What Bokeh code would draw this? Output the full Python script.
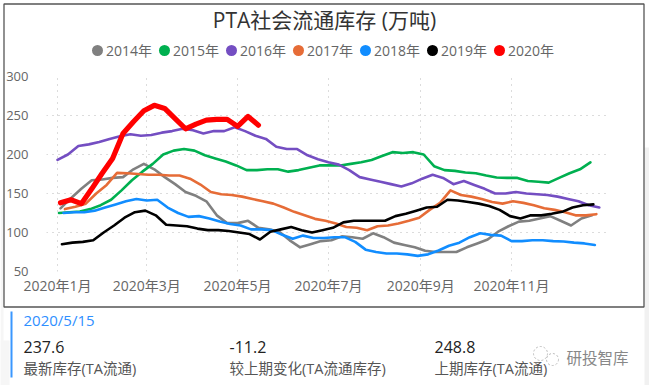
from bokeh.plotting import figure
from bokeh.models import Range1d, FixedTicker
from bokeh.core.properties import value
from bokeh.embed import file_html
from bokeh.resources import INLINE
import pandas as pd

title = "PTA社会流通库存 (万吨)"
date_text = "2020/5/15"
tick_days = [0, 60, 121, 182, 244, 305]
tick_labels = ["2020年1月", "2020年3月", "2020年5月", "2020年7月", "2020年9月", "2020年11月"]
y_ticks = [50, 100, 150, 200, 250, 300]

start_2014 = "2020-01-03"
start_2015 = "2020-01-02"
start_2016 = "2020-01-01"
start_2017 = "2020-01-06"
start_2018 = "2020-01-05"
start_2019 = "2020-01-04"
start_2020 = "2020-01-03"

v2014 = [131,144,156,167,168,170,171,181,188,181,171,162,152,147,140,122,112,112,115,106,104,101,90,81,85,89,90,95,94,92,99,94,87,84,81,
         76.5,75,75,75,81,86,91,101,108,114,115,118,121,115,109,118,122]
v2015 = [125,126,127,130,135,142,154,167,178,188,200,205,207,205,199,195,191,186,180,180,181,181,178,180,183,186,186,186,188,190,193,198,203,202,203,
         200,185,180,179,177,176,173,170.5,170,170,166,165,164,170,176,181,190]
v2016 = [193,200,211,213,216,220,223.5,226,224,225,228,230,233,231,227,230,230,235,230,224,220,210,207,207,199,194,190,187,180,171,168,165,162,159,163,
         169,174,170,162,166,161,156,150,150,152,150,149,148,146,143,140,135,132]
v2017 = [130,133,137,150,161,176.5,176,175,174,174,173,173,169,161.5,152,149,148,146,143,140,137,132,126.5,122,117.5,115,111.5,107,106,103,108,109,111.5,115,119,
         129,138,154,148,146,143,139,137,140,138,135,131,129,126,122,122,123.5]
v2018 = [125,126,126,128,132,136,140,143,141,142,132,125,120,121,118,114,111,109,104,104,103,97,92,96,93,93,94,94,88,78,75,73,73,72,70,
         72,77,83,87,94,99,97,96,89,89,90,90,89,88.5,87,86,84]
v2019 = [85,87,88,90,100,109,119,126,128,122,110,109,108,105,103,103,102,100,98,91,101,104,107,103,100,103,106,113,115,115,115,115,121,124,128,
         132,133,142,141,139,137,134,129,121,118,122,122,124,126.5,132,135,136]
v2020 = [138,142,137,156,176,195,227,242,256,263,259,246,233,239,244,245,245,236,248.8,237.6]

names = ["2014年", "2015年", "2016年", "2017年", "2018年", "2019年", "2020年"]
colors = ["#808080", "#00B050", "#744EC2", "#E66C37", "#118DFF", "#000000", "#FF0000"]
series = [v2014, v2015, v2016, v2017, v2018, v2019, v2020]
starts = [start_2014, start_2015, start_2016, start_2017, start_2018, start_2019, start_2020]
widths = [2.6, 2.6, 2.6, 2.6, 2.6, 2.6, 5.2]

kpi_x = [23, 229, 434]
kpi_val = ["237.6", "-11.2", "248.8"]
kpi_lab = ["最新库存(TA流通)", "较上期变化(TA流通库存)", "上期库存(TA流通)"]

FONT = "Open Sans, Noto Sans CJK SC, sans-serif"
L, R, T, B = 46, 607, 76, 271
ABS = {"position": "absolute", "left": "0px", "top": "0px"}

# Backdrop: card, title, legend and KPI strip, in page pixels
bg = figure(width=649, height=385, output_backend="svg", toolbar_location=None,
            x_range=Range1d(0, 649), y_range=Range1d(385, 0), x_axis_type=None, y_axis_type=None,
            min_border=0, outline_line_color=None, background_fill_color="white",
            border_fill_color="white", styles=ABS)
bg.grid.visible = False


def text(x, y, s, size, color, align="left"):
    bg.text([x], [y], text=[s], text_font=value(FONT), text_font_size=value(f"{size}px"),
            text_color=color, text_align=align, text_baseline="middle")


bg.quad(left=[644], right=[649], top=[147], bottom=[385], fill_color="#f1f1f1", line_color=None)
bg.quad(left=[0], right=[3], top=[200], bottom=[385], fill_color="#f6f6f6", line_color=None)
bg.quad(left=[0], right=[9], top=[340], bottom=[385], fill_color="#f6f6f6", line_color=None)
bg.quad(left=[3.5], right=[643.5], top=[3.5], bottom=[306.5], fill_color=None, line_color="#555555", line_width=1.3)
text(324, 19.5, title, 21, "#333333", "center")
for i, (n, c) in enumerate(zip(names, colors)):
    cx = 97 + 67 * i
    bg.scatter([cx], [50], size=11, fill_color=c, line_color=None)
    text(cx + 8.5, 49.5, n, 14, "#666666")
bg.quad(left=[10], right=[12], top=[311], bottom=[377], fill_color="#3A97FF", line_color=None)
text(23, 319, date_text, 15, "#2F8FFF")
for x, v, l in zip(kpi_x, kpi_val, kpi_lab):
    text(x, 346, v, 16, "#222222")
    text(x, 368, l, 14.5, "#555555")
bg.scatter([540], [353], size=14, fill_color=None, line_color="#bbbbbb", line_dash="2 2")
bg.scatter([552], [359], size=12, fill_color=None, line_color="#bbbbbb", line_dash="2 2")
text(566, 357, "研投智库", 15.5, "#888888")

# Chart, on top of the backdrop
p = figure(width=649, height=385, output_backend="svg", toolbar_location=None,
           x_range=Range1d(-7.4, 369.5), y_range=Range1d(50, 300),
           min_border_left=L, min_border_right=649 - R, min_border_top=T, min_border_bottom=385 - B,
           outline_line_color=None, background_fill_color=None, border_fill_color=None, styles=ABS)

for vals, start, c, w in zip(series, starts, colors, widths):
    dates = pd.date_range(start, periods=len(vals), freq="7D")
    days = (dates - pd.Timestamp("2020-01-01")).days.tolist()
    p.line(days, vals, line_color=c, line_width=w, line_join="round", line_cap="round")

for ax in (p.xaxis[0], p.yaxis[0]):
    ax.axis_line_color = None
    ax.major_tick_line_color = None
    ax.minor_tick_line_color = None
    ax.major_label_text_font = FONT
p.xaxis[0].ticker = FixedTicker(ticks=tick_days)
p.xaxis[0].major_label_overrides = dict(zip(tick_days, tick_labels))
p.xaxis[0].major_label_text_font_size = "14px"
p.xaxis[0].major_label_text_color = "#666666"
p.xaxis[0].major_label_standoff = -2
p.yaxis[0].ticker = FixedTicker(ticks=y_ticks)
p.yaxis[0].major_label_text_font_size = "13px"
p.yaxis[0].major_label_text_color = "#666666"
p.yaxis[0].major_label_standoff = 12
for g in (p.xgrid[0], p.ygrid[0]):
    g.grid_line_color = "#b8b8b8"
    g.grid_line_dash = "1 5"
    g.grid_line_width = 1
p.xgrid[0].ticker = FixedTicker(ticks=tick_days)
p.ygrid[0].ticker = FixedTicker(ticks=y_ticks)

open("out.html", "w").write(file_html((bg, p), INLINE))
